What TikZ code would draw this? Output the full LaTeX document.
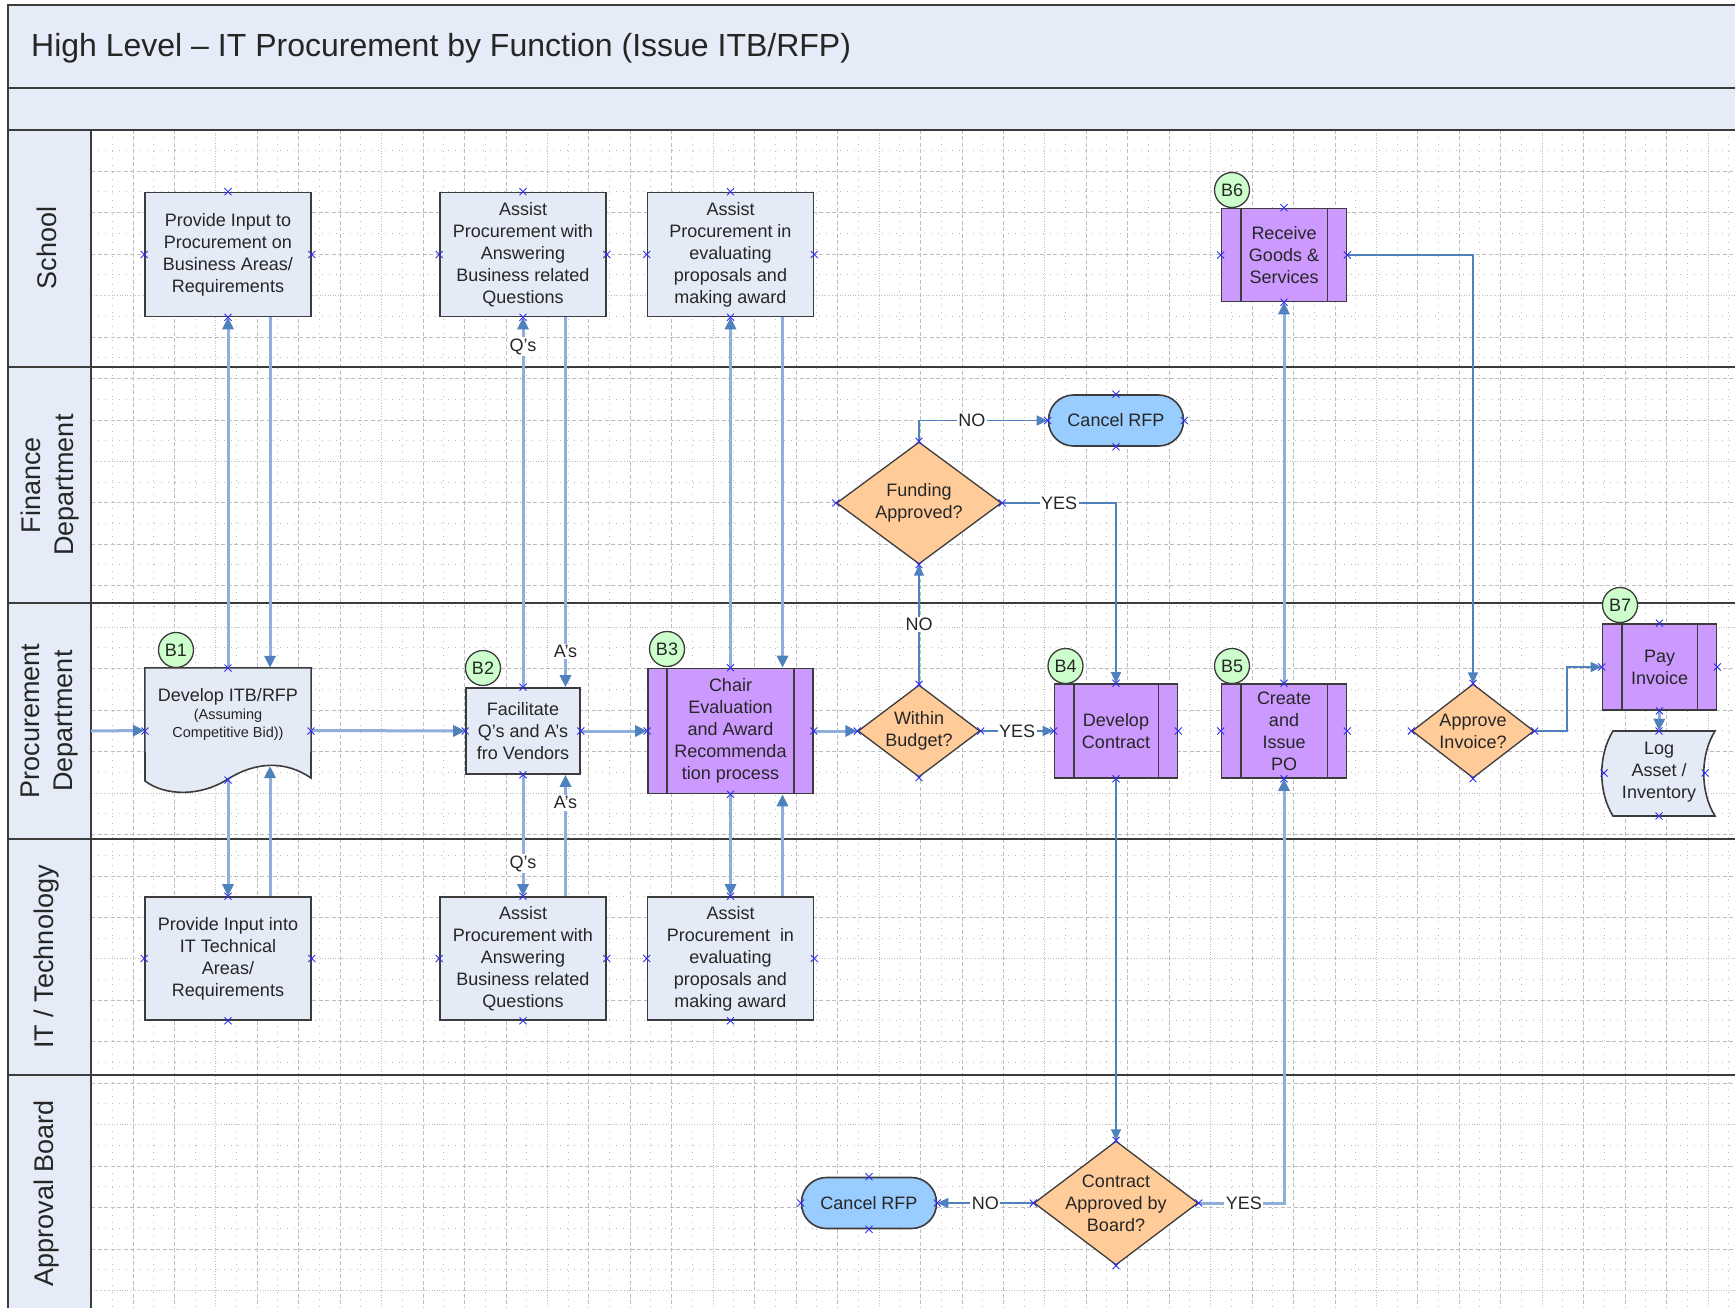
\documentclass[tikz,border=0pt]{standalone}
\usepackage{fontspec}
\setmainfont{Liberation Sans}
\usetikzlibrary{arrows.meta,shapes.geometric}
\definecolor{bandfill}{HTML}{E6ECF7}
\definecolor{procfill}{HTML}{E4EAF6}
\definecolor{subfill}{HTML}{CC99FF}
\definecolor{decfill}{HTML}{FFCC99}
\definecolor{termfill}{HTML}{99CCFF}
\definecolor{tagfill}{HTML}{CCFFCC}
\definecolor{connD}{HTML}{4F81BD}
\definecolor{connL}{HTML}{8FAEDC}
\definecolor{edgec}{HTML}{3C3C3C}
\definecolor{txtc}{HTML}{262626}
\definecolor{cpblue}{HTML}{3030F0}
\definecolor{gridc}{HTML}{BDBDBD}
\newcommand\cpx[1]{\draw[cpm] ([shift={(-3.5pt,-3.5pt)}]#1) -- ([shift={(3.5pt,3.5pt)}]#1) ([shift={(-3.5pt,3.5pt)}]#1) -- ([shift={(3.5pt,-3.5pt)}]#1);}
\begin{document}
\begin{tikzpicture}[x=1pt,y=-1pt,
  every node/.style={text=txtc},
  nfont/.style={font=\fontsize{18}{22}\selectfont},
  proc/.style={nfont, rectangle, draw=edgec, line width=1.6pt, fill=procfill, align=center, inner sep=0pt},
  subp/.style={proc, fill=subfill},
  term/.style={nfont, rectangle, rounded corners=25pt, draw=edgec, line width=1.6pt, fill=termfill, inner sep=0pt},
  dec/.style={diamond, draw=edgec, line width=1.3pt, fill=decfill, inner sep=0pt},
  dtext/.style={nfont, align=center, inner sep=0pt},
  docsh/.style={draw=edgec, line width=1.6pt, fill=procfill},
  tag/.style={circle, draw=edgec, line width=1.3pt, fill=tagfill, minimum size=35pt, inner sep=0pt, nfont},
  lanelbl/.style={font=\fontsize{27}{33}\selectfont, rotate=90, align=center, inner sep=0pt},
  lbl/.style={nfont, fill=white, inner sep=1.5pt},
  cthin/.style={draw=connD, line width=1.4pt, -{Triangle[length=11pt,width=10pt]}},
  cthick/.style={draw=connL, line width=3pt, -{Triangle[length=12pt,width=11pt,color=connD]}},
  cpm/.style={draw=cpblue, line width=0.9pt},
  gmaj/.style={draw=gridc, line width=0.7pt, dash pattern=on 4pt off 2.5pt},
  gfine/.style={draw=gridc, line width=0.7pt, dash pattern=on 1pt off 1.6pt},
  gmin/.style={draw=gridc, line width=1pt, dash pattern=on 1pt off 6pt},
  framel/.style={draw=edgec, line width=2pt},
  subbar/.style={draw=edgec, line width=1.6pt}
]
\useasboundingbox (0,0) rectangle (1735,1308);
\clip (0,0) rectangle (1735,1308);
\fill[white] (0,0) rectangle (1735,1308);

% grid
\begin{scope}
\clip (91,130.5) rectangle (1735,1308);
\foreach \k in {2,...,42} {
  \pgfmathsetmacro\gx{8.5+41.45*\k}
  \pgfmathtruncatemacro\m{mod(\k,4)}
  \ifnum\m=1 \draw[gfine] (\gx,130) -- (\gx,1308); \else \draw[gmaj] (\gx,130) -- (\gx,1308); \fi
  \draw[gmin] (\gx+20.7,130) -- (\gx+20.7,1308);
}
\foreach \k in {3,...,32} {
  \pgfmathsetmacro\gy{5.4+41.45*\k}
  \pgfmathtruncatemacro\m{mod(\k,4)}
  \ifnum\m=3 \draw[gfine] (91,\gy) -- (1735,\gy); \else \draw[gmaj] (91,\gy) -- (1735,\gy); \fi
  \draw[gmin] (91,\gy+20.7) -- (1735,\gy+20.7);
}
\end{scope}

% bands and lanes
\fill[bandfill] (8,5) rectangle (1740,130.5);
\fill[bandfill] (8,130.5) rectangle (91,1310);
\draw[framel] (1740,5) -- (8,5) -- (8,1310);
\draw[framel] (8,88) -- (1740,88);
\draw[framel] (8,130.5) -- (1740,130.5);
\foreach \yy in {367,603,839,1075} \draw[framel] (8,\yy) -- (1740,\yy);
\draw[framel] (91,130.5) -- (91,1310);

\node[anchor=west, inner sep=0pt, font=\fontsize{32}{38}\selectfont] (title) at (31,48) {High Level – IT Procurement by Function (Issue ITB/RFP)};

\node[lanelbl] (L1) at (47,248) {School};
\node[lanelbl] (L2) at (50,485) {Finance\\Department};
\node[lanelbl] (L3) at (50,721) {Procurement\\Department};
\node[lanelbl] (L4) at (47,957) {IT / Technology};
\node[lanelbl] (L5) at (47,1193) {Approval Board};

% School lane
\node[proc, minimum width=166pt, minimum height=124pt] (S1) at (228,254.5) {Provide Input to\\Procurement on\\Business Areas/\\Requirements};
\node[proc, minimum width=166pt, minimum height=124pt] (S2) at (523,254.5) {Assist\\Procurement with\\Answering\\Business related\\Questions};
\node[proc, minimum width=166pt, minimum height=124pt] (S3) at (730.5,254.5) {Assist\\Procurement in\\evaluating\\proposals and\\making award};
\node[subp, minimum width=125pt, minimum height=93pt] (B6) at (1284,255) {Receive\\Goods \&\\Services};

% Finance lane
\node[term, minimum width=135pt, minimum height=51pt] (CanF) at (1116,420.5) {Cancel RFP};
\node[dec, minimum width=165pt, minimum height=122pt] (Fund) at (919,503) {};
\node[dtext] (Fundt) at (Fund) {Funding\\Approved?};

% Procurement lane
\node[minimum width=166pt, minimum height=125pt, inner sep=0pt] (B1) at (228,730.5) {};
\path[docsh] (B1.north west) -- (B1.north east) -- (311,778) .. controls (285,760) and (255,762) .. (228,779) .. controls (200,797) and (165,796) .. (145,781) -- cycle;
\node[align=center, inner sep=0pt, font=\fontsize{14.5}{18}\selectfont] (B1t) at (228,714) {{\fontsize{18}{22}\selectfont Develop ITB/RFP}\\(Assuming\\Competitive Bid))};
\coordinate (b1s) at (228,780);
\coordinate (b1r) at (270,766);
\coordinate (entry) at (91,731);

\node[proc, minimum width=114pt, minimum height=86pt] (B2) at (523,731) {Facilitate\\Q's and A's\\fro Vendors};
\node[subp, minimum width=165pt, minimum height=125pt] (B3) at (730.5,731) {Chair\\Evaluation\\and Award\\Recommenda\\tion process};
\node[dec, minimum width=122pt, minimum height=92pt] (WB) at (919,731) {};
\node[dtext] (WBt) at (WB) {Within\\Budget?};
\node[subp, minimum width=123pt, minimum height=94pt] (B4) at (1116,731) {Develop\\Contract};
\node[subp, minimum width=125pt, minimum height=94pt] (B5) at (1284,731) {Create\\and\\Issue\\PO};
\node[dec, minimum width=122pt, minimum height=94pt] (AI) at (1473,731) {};
\node[dtext] (AIt) at (AI) {Approve\\Invoice?};
\coordinate (aib) at (1567,731);
\node[subp, minimum width=114pt, minimum height=86pt] (B7) at (1659.5,667) {Pay\\Invoice};
\node[minimum width=104pt, minimum height=85pt, inner sep=0pt] (Log) at (1659,773.5) {};
\path[docsh] (1613,731) -- (1715,731) .. controls (1700,755) and (1700,792) .. (1715,816) -- (1613,816) .. controls (1598,792) and (1598,755) .. (1613,731) -- cycle;
\node[dtext] (Logt) at (1659,772) {Log\\Asset /\\Inventory};

% IT lane
\node[proc, minimum width=166pt, minimum height=123pt] (IT1) at (228,958.5) {Provide Input into\\IT Technical\\Areas/\\Requirements};
\node[proc, minimum width=166pt, minimum height=123pt] (IT2) at (523,958.5) {Assist\\Procurement with\\Answering\\Business related\\Questions};
\node[proc, minimum width=166pt, minimum height=123pt] (IT3) at (730.5,958.5) {Assist\\Procurement\ \ in\\evaluating\\proposals and\\making award};

% Approval lane
\node[term, minimum width=135pt, minimum height=51pt] (CanA) at (869,1203) {Cancel RFP};
\node[dec, minimum width=164pt, minimum height=124pt] (CA) at (1116,1203) {};
\node[dtext] (CAt) at (CA) {Contract\\Approved by\\Board?};

% sub-process bars
\foreach \n in {B3,B4,B5,B6,B7} {
  \draw[subbar] ([xshift=20pt]\n.north west) -- ([xshift=20pt]\n.south west);
  \draw[subbar] ([xshift=-20pt]\n.north east) -- ([xshift=-20pt]\n.south east);
}

% connectors
\draw[cthick] (entry) -- (B1.west);
\draw[cthick] (B1.east) -- (B2.west);
\draw[cthick] (B2.east) -- (B3.west);
\draw[cthick] (B3.east) -- (WB.west);
\draw[cthin] (WB.east) -- node[lbl]{YES} (B4.west);
\draw[cthin] (WB.north) -- node[lbl]{NO} (Fund.south);
\draw[cthin] (Fund.north) |- node[lbl,pos=0.705]{NO} (CanF.west);
\draw[cthin] (Fund.east) -| node[lbl,pos=0.25]{YES} (B4.north);
\draw[cthin] (B4.south) -- (CA.north);
\draw[cthin] (CA.west) -- node[lbl]{NO} (CanA.east);
\draw[cthick] (CA.east) -| node[lbl,pos=0.265]{YES} (B5.south);
\draw[cthick] (B5.north) -- (B6.south);
\draw[cthin] (B6.east) -| (AI.north);
\draw[cthin] (AI.east) -- (aib) |- (B7.west);
\draw[cthick] (B7.south) -- (Log.north);

\draw[cthick] (B1.north) -- (S1.south);
\draw[cthick] ([xshift=42pt]S1.south) -- ([xshift=42pt]B1.north);
\draw[cthick] (b1s) -- (IT1.north);
\draw[cthick] ([xshift=42pt]IT1.north) -- (b1r);
\draw[cthick] (B2.north) -- node[lbl,pos=0.92]{Q's} (S2.south);
\draw[cthick] ([xshift=42.5pt]S2.south) -- node[lbl,pos=0.903]{A's} ([xshift=42.5pt]B2.north);
\draw[cthick] (B2.south) -- node[lbl,pos=0.73]{Q's} (IT2.north);
\draw[cthick] ([xshift=42.5pt]IT2.north) -- node[lbl,pos=0.77]{A's} ([xshift=42.5pt]B2.south);
\draw[cthick] (B3.north) -- (S3.south);
\draw[cthick] ([xshift=52pt]S3.south) -- ([xshift=52pt]B3.north);
\draw[cthick] (B3.south) -- (IT3.north);
\draw[cthick] ([xshift=52pt]IT3.north) -- ([xshift=52pt]B3.south);

% tags
\node[tag] (T1) at (176,650) {B1};
\node[tag] (T2) at (483,668) {B2};
\node[tag] (T3) at (667,649) {B3};
\node[tag] (T4) at (1065.5,666) {B4};
\node[tag] (T5) at (1232,666) {B5};
\node[tag] (T6) at (1232,190) {B6};
\node[tag] (T7) at (1620,605) {B7};

% connection point markers
\foreach \n in {S1,S2,S3,IT1,IT2,IT3,B2,B3,B4,B5,B6,B7,Fund,WB,AI,CA,CanF,CanA} {
  \foreach \a in {north,south,east,west} { \cpx{\n.\a} }
}
\foreach \px/\py in {228/668,145/731,311/731,228/780,1659/731,1604/773,1705/773,1659/816} {
  \coordinate (cp) at (\px,\py); \cpx{cp}
}
\end{tikzpicture}
\end{document}
